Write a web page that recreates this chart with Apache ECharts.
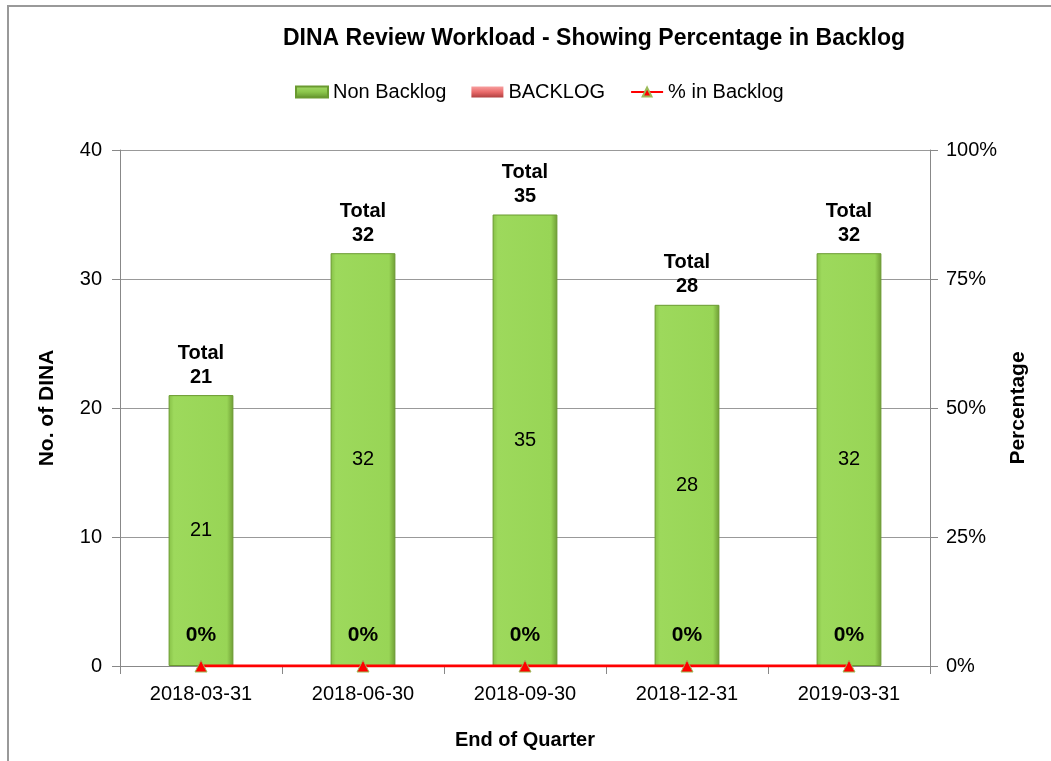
<!DOCTYPE html>
<html>
<head>
<meta charset="utf-8">
<script src="https://cdn.jsdelivr.net/npm/echarts@6/dist/echarts.min.js"></script>
<style>
  html, body { margin: 0; padding: 0; background: #fff; }
  #chart { width: 1051px; height: 761px; }
</style>
</head>
<body>
<div id="chart"></div>
<script>
// quarters and counts
var quarters = ['2018-03-31', '2018-06-30', '2018-09-30', '2018-12-31', '2019-03-31'];
var nonBacklog = [21, 32, 35, 28, 32];
var backlog = [0, 0, 0, 0, 0];
var pctBacklog = [0, 0, 0, 0, 0];

var chart = echarts.init(document.getElementById('chart'));

var barGreen = new echarts.graphic.LinearGradient(0, 0, 1, 0, [
	{ offset: 0, color: '#86c046' },
	{ offset: 0.08, color: '#9dd95c' },
	{ offset: 0.9, color: '#98d556' },
	{ offset: 1, color: '#6e9c34' }
]);
var legendGreen = new echarts.graphic.LinearGradient(0, 0, 0, 1, [
	{ offset: 0, color: '#a6dc6a' },
	{ offset: 0.5, color: '#8cc64c' },
	{ offset: 1, color: '#5f8f2a' }
]);
var legendRed = new echarts.graphic.LinearGradient(0, 0, 0, 1, [
	{ offset: 0, color: '#f7a0a0' },
	{ offset: 0.5, color: '#ea6a6a' },
	{ offset: 1, color: '#b04040' }
]);

chart.setOption({
	textStyle: { fontFamily: 'Liberation Sans, Arial, sans-serif', color: '#000' },
	graphic: [{
		type: 'rect',
		shape: { x: 8, y: 6, width: 1100, height: 800 },
		style: { fill: 'none', stroke: '#999', lineWidth: 2 },
		silent: true
	}],
	title: {
		text: 'DINA Review Workload - Showing Percentage in Backlog',
		left: 589,
		textAlign: 'center',
		top: 22,
		textStyle: { fontSize: 23, fontWeight: 'bold', color: '#000' }
	},
	legend: {
		top: 77,
		left: 290,
		itemWidth: 32,
		itemHeight: 11,
		itemGap: 25,
		textStyle: { fontSize: 20, color: '#000' },
		data: [
			{ name: 'Non Backlog', icon: 'rect', itemStyle: { color: legendGreen } },
			{ name: 'BACKLOG', icon: 'rect', itemStyle: { color: legendRed } },
			{ name: '% in Backlog' }
		]
	},
	grid: { left: 120, right: 121, top: 150, bottom: 95 },
	xAxis: {
		type: 'category',
		data: quarters,
		name: 'End of Quarter',
		nameLocation: 'middle',
		nameGap: 64,
		nameTextStyle: { fontSize: 20, fontWeight: 'bold', color: '#000' },
		axisLine: { lineStyle: { color: '#888' } },
		axisTick: { show: true, length: 8, lineStyle: { color: '#888' } },
		axisLabel: { fontSize: 20, color: '#000', margin: 18 }
	},
	yAxis: [{
		type: 'value',
		min: 0,
		max: 40,
		interval: 10,
		name: 'No. of DINA',
		nameLocation: 'middle',
		nameGap: 62,
		nameTextStyle: { fontSize: 21, fontWeight: 'bold', color: '#000' },
		axisLine: { show: true, lineStyle: { color: '#888' } },
		axisTick: { show: true, length: 8, lineStyle: { color: '#888' } },
		axisLabel: { fontSize: 20, color: '#000', margin: 18 },
		splitLine: { lineStyle: { color: '#999' } }
	}, {
		type: 'value',
		min: 0,
		max: 1,
		interval: 0.25,
		name: 'Percentage',
		nameLocation: 'middle',
		nameGap: 76,
		nameTextStyle: { fontSize: 21, fontWeight: 'bold', color: '#000' },
		axisLine: { show: true, lineStyle: { color: '#888' } },
		axisTick: { show: true, length: 8, lineStyle: { color: '#888' } },
		axisLabel: {
			fontSize: 20, color: '#000', margin: 16,
			formatter: function (v) { return Math.round(v * 100) + '%'; }
		},
		splitLine: { show: false }
	}],
	series: [{
		name: 'Non Backlog',
		type: 'bar',
		stack: 'total',
		barWidth: '40%',
		itemStyle: { color: barGreen, borderColor: '#6a9a30', borderWidth: 1 },
		label: { show: true, position: 'inside', fontSize: 20, color: '#000' },
		data: nonBacklog
	}, {
		name: 'BACKLOG',
		type: 'bar',
		stack: 'total',
		barWidth: '40%',
		itemStyle: { color: '#f26b6b', borderColor: '#c0504d', borderWidth: 0 },
		label: {
			show: true,
			position: 'top',
			distance: 6,
			fontSize: 20,
			fontWeight: 'bold',
			lineHeight: 24,
			color: '#000',
			formatter: function (p) {
				return 'Total\n' + (nonBacklog[p.dataIndex] + backlog[p.dataIndex]);
			}
		},
		data: backlog
	}, {
		name: '% in Backlog',
		type: 'line',
		yAxisIndex: 1,
		symbol: 'triangle',
		symbolSize: 12,
		lineStyle: { color: '#ff0000', width: 3 },
		itemStyle: { color: '#ff0000', borderColor: '#9bbb59', borderWidth: 1 },
		label: {
			show: true,
			position: 'top',
			distance: 14,
			fontSize: 21,
			fontWeight: 'bold',
			color: '#000',
			formatter: function (p) { return Math.round(p.value * 100) + '%'; }
		},
		z: 5,
		data: pctBacklog
	}]
});
</script>
</body>
</html>
